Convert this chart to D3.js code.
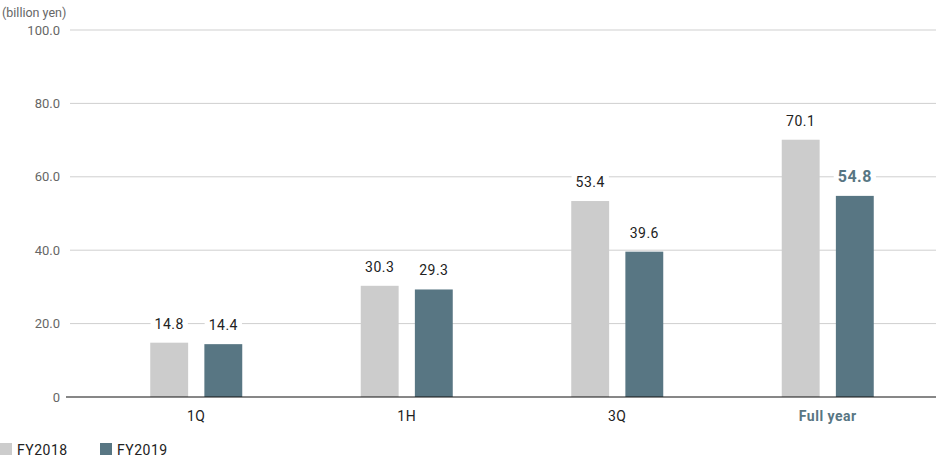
<!DOCTYPE html>
<html>
<head>
<meta charset="utf-8">
<script src="https://cdn.jsdelivr.net/npm/d3@7"></script>
<style>
  body { margin: 0; background: #fff; }
  text { font-family: Roboto, 'DejaVu Sans', sans-serif; }
</style>
</head>
<body>
<div id="chart"></div>
<script>
const categories = ['1Q', '1H', '3Q', 'Full year']
const seriesNames = ['FY2018', 'FY2019']
const fy2018 = [14.8, 30.3, 53.4, 70.1]
const fy2019 = [14.4, 29.3, 39.6, 54.8]
const yTicks = [0, 20, 40, 60, 80, 100]

const colors = { FY2018: '#cccccc', FY2019: '#587683' }

const width = 936
const height = 456

const svg = d3
  .select('#chart')
  .append('svg')
  .attr('width', width)
  .attr('height', height)

const xScale = d3.scaleBand().domain(categories).range([91, 933])
const innerScale = d3
  .scaleBand()
  .domain(seriesNames)
  .range([xScale.bandwidth() / 2 - 46, xScale.bandwidth() / 2 + 46])
  .paddingInner(0.3)
  .paddingOuter(0)
const yScale = d3.scaleLinear().domain([0, 100]).range([397, 30])

// gridlines
svg
  .selectAll('.grid')
  .data(yTicks.filter(d => d > 0))
  .enter()
  .append('line')
  .attr('class', 'grid')
  .attr('x1', 70)
  .attr('x2', width)
  .attr('y1', d => yScale(d))
  .attr('y2', d => yScale(d))
  .attr('stroke', '#cfcfcf')
  .attr('stroke-width', 1)

// y tick labels
svg
  .selectAll('.ytick')
  .data(yTicks)
  .enter()
  .append('text')
  .attr('class', 'ytick')
  .attr('x', 60)
  .attr('y', d => yScale(d))
  .attr('dy', '0.35em')
  .attr('text-anchor', 'end')
  .attr('font-size', 13)
  .attr('fill', '#666')
  .text(d => (d === 0 ? '0' : d.toFixed(1)))

svg
  .append('text')
  .attr('x', 2)
  .attr('y', 17)
  .attr('font-size', 12.5)
  .attr('fill', '#666')
  .text('(billion yen)')

const rows = []
categories.forEach((c, i) => {
  rows.push({ cat: c, series: 'FY2018', value: fy2018[i] })
  rows.push({ cat: c, series: 'FY2019', value: fy2019[i] })
})

// bars
svg
  .selectAll('.bar')
  .data(rows)
  .enter()
  .append('rect')
  .attr('class', 'bar')
  .attr('x', d => xScale(d.cat) + innerScale(d.series))
  .attr('width', innerScale.bandwidth())
  .attr('y', d => yScale(d.value))
  .attr('height', d => yScale(0) - yScale(d.value))
  .attr('fill', d => colors[d.series])

// value labels with white background to cut gridlines
const isHighlight = d => d.cat === 'Full year' && d.series === 'FY2019'
const labels = svg
  .selectAll('.val')
  .data(rows)
  .enter()
  .append('g')
  .attr('class', 'val')
  .attr('transform', d =>
    'translate(' + (xScale(d.cat) + innerScale(d.series) + innerScale.bandwidth() / 2) + ',' + (yScale(d.value) - 14) + ')'
  )

labels
  .append('text')
  .attr('text-anchor', 'middle')
  .attr('font-size', d => (isHighlight(d) ? 16 : 14))
  .attr('font-weight', d => (isHighlight(d) ? 'bold' : 'normal'))
  .attr('fill', d => (isHighlight(d) ? '#587683' : '#222'))
  .attr('letter-spacing', '0.5px')
  .text(d => d.value.toFixed(1))
  .each(function () {
    const b = this.getBBox()
    d3.select(this.parentNode)
      .insert('rect', 'text')
      .attr('x', b.x - 4)
      .attr('y', b.y)
      .attr('width', b.width + 8)
      .attr('height', b.height)
      .attr('fill', '#fff')
  })

// axis line
svg
  .append('line')
  .attr('x1', 66)
  .attr('x2', width)
  .attr('y1', yScale(0))
  .attr('y2', yScale(0))
  .attr('stroke', '#111')
  .attr('stroke-width', 1.2)

// category labels
svg
  .selectAll('.cat')
  .data(categories)
  .enter()
  .append('text')
  .attr('class', 'cat')
  .attr('x', d => xScale(d) + xScale.bandwidth() / 2)
  .attr('y', 421)
  .attr('text-anchor', 'middle')
  .attr('font-size', 14)
  .attr('font-weight', d => (d === 'Full year' ? 'bold' : 'normal'))
  .attr('fill', d => (d === 'Full year' ? '#587683' : '#222'))
  .attr('letter-spacing', '0.5px')
  .text(d => d)

// legend
const legend = svg
  .selectAll('.legend')
  .data(seriesNames)
  .enter()
  .append('g')
  .attr('class', 'legend')
  .attr('transform', (d, i) => 'translate(' + i * 100 + ',443)')

legend
  .append('rect')
  .attr('width', 12)
  .attr('height', 12)
  .attr('fill', d => colors[d])

legend
  .append('text')
  .attr('x', 17)
  .attr('y', 11.5)
  .attr('font-size', 14)
  .attr('fill', '#222')
  .attr('letter-spacing', '0.5px')
  .text(d => d)
</script>
</body>
</html>
